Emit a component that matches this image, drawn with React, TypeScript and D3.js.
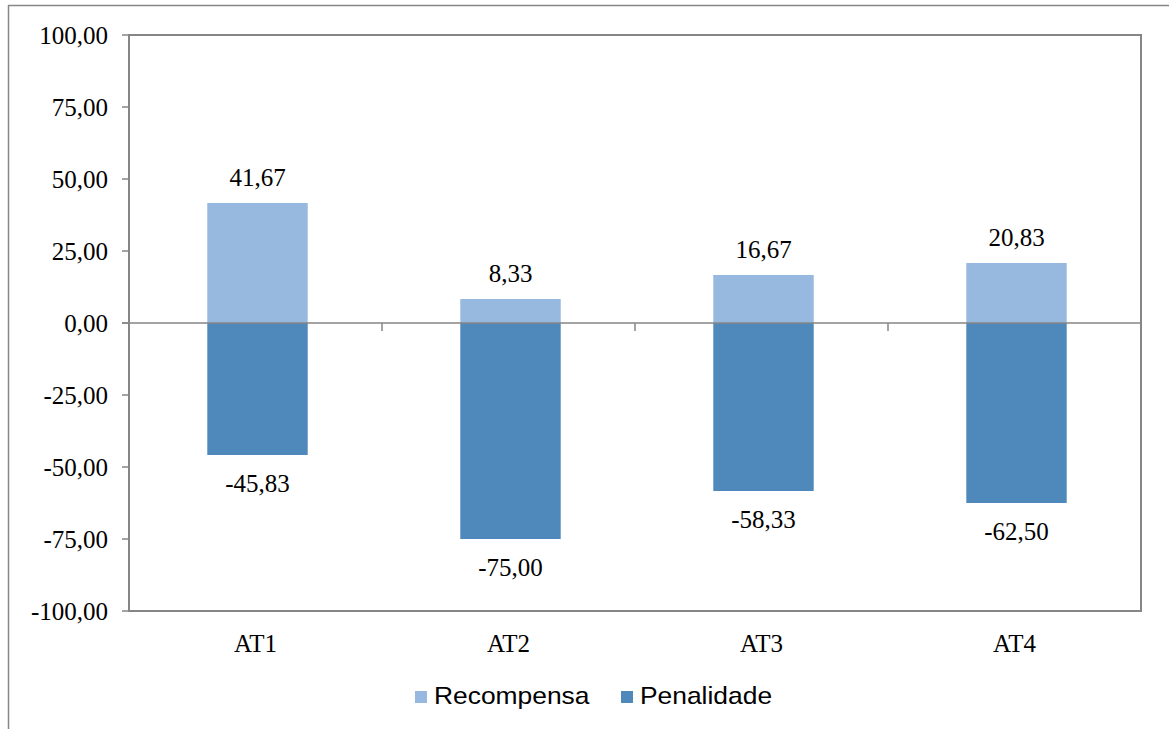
import React from "react";
import * as d3 from "d3";

const categories = ["AT1", "AT2", "AT3", "AT4"];
const recompensa = [41.67, 8.33, 16.67, 20.83];
const penalidade = [-45.83, -75.0, -58.33, -62.5];
const yTicks = [100, 75, 50, 25, 0, -25, -50, -75, -100];
const seriesNames = ["Recompensa", "Penalidade"];
const colors = ["#97B9E0", "#4F89BC"];

const W = 1169;
const H = 729;
const plot = { left: 129, right: 1141, top: 35, bottom: 611 };

const fmt = (v: number) => v.toFixed(2).replace(".", ",");

export default function App() {
  const x = d3
    .scaleBand<string>()
    .domain(categories)
    .range([plot.left + 2, plot.right + 2])
    .paddingInner(0.603)
    .paddingOuter(0.3015);
  const y = d3.scaleLinear().domain([-100, 100]).range([plot.bottom, plot.top]);
  const bw = x.bandwidth();
  const step = (plot.right - plot.left) / categories.length;
  const serif = "'Liberation Serif', 'Times New Roman', serif";
  const sans = "'Liberation Sans', Arial, sans-serif";
  const gray = "#868686";

  return (
    <svg
      width={W}
      height={H}
      style={{ position: "absolute", left: 0, top: 0, background: "#fff" }}
    >
      <rect x={0} y={0} width={W} height={H} fill="#fff" />
      {/* outer frame */}
      <line x1={8} y1={5.5} x2={W} y2={5.5} stroke={gray} strokeWidth={1.5} />
      <line x1={8.5} y1={5} x2={8.5} y2={H} stroke={gray} strokeWidth={1.5} />

      {/* y ticks and labels */}
      {yTicks.map((t) => (
        <g key={t}>
          <line x1={122} x2={plot.left} y1={y(t)} y2={y(t)} stroke={gray} strokeWidth={1.5} />
          <text
            x={108}
            y={y(t) + 8.5}
            textAnchor="end"
            fontFamily={serif}
            fontSize={25}
            fill="#000"
          >
            {fmt(t)}
          </text>
        </g>
      ))}

      {/* bars */}
      {categories.map((c, i) => (
        <g key={c}>
          <rect
            x={x(c)!}
            y={y(recompensa[i])}
            width={bw}
            height={y(0) - y(recompensa[i])}
            fill={colors[0]}
          />
          <rect
            x={x(c)!}
            y={y(0)}
            width={bw}
            height={y(penalidade[i]) - y(0)}
            fill={colors[1]}
          />
          <text
            x={x(c)! + bw / 2}
            y={y(recompensa[i]) - 17}
            textAnchor="middle"
            fontFamily={serif}
            fontSize={25}
          >
            {fmt(recompensa[i])}
          </text>
          <text
            x={x(c)! + bw / 2}
            y={y(penalidade[i]) + 37}
            textAnchor="middle"
            fontFamily={serif}
            fontSize={25}
          >
            {fmt(penalidade[i])}
          </text>
          <text
            x={plot.left + step * i + step / 2}
            y={652}
            textAnchor="middle"
            fontFamily={serif}
            fontSize={25}
          >
            {c}
          </text>
        </g>
      ))}

      {/* zero line & category ticks */}
      <line x1={122} x2={plot.right} y1={y(0)} y2={y(0)} stroke={gray} strokeWidth={1.5} />
      {categories.slice(1).map((c, i) => (
        <line
          key={c}
          x1={plot.left + step * (i + 1)}
          x2={plot.left + step * (i + 1)}
          y1={y(0)}
          y2={y(0) + 8}
          stroke={gray}
          strokeWidth={1.5}
        />
      ))}

      {/* plot frame */}
      <rect
        x={plot.left}
        y={plot.top}
        width={plot.right - plot.left}
        height={plot.bottom - plot.top}
        fill="none"
        stroke={gray}
        strokeWidth={2}
      />

      {/* legend */}
      {seriesNames.map((s, i) => {
        const lx = i === 0 ? 415 : 621;
        return (
          <g key={s}>
            <rect x={lx} y={691} width={12} height={12} fill={colors[i]} />
            <text
              x={lx + 19}
              y={704}
              fontFamily={sans}
              fontSize={24}
              fill="#000"
              transform={`translate(${lx + 19},0) scale(1.1,1) translate(${-(lx + 19)},0)`}
            >
              {s}
            </text>
          </g>
        );
      })}
    </svg>
  );
}
